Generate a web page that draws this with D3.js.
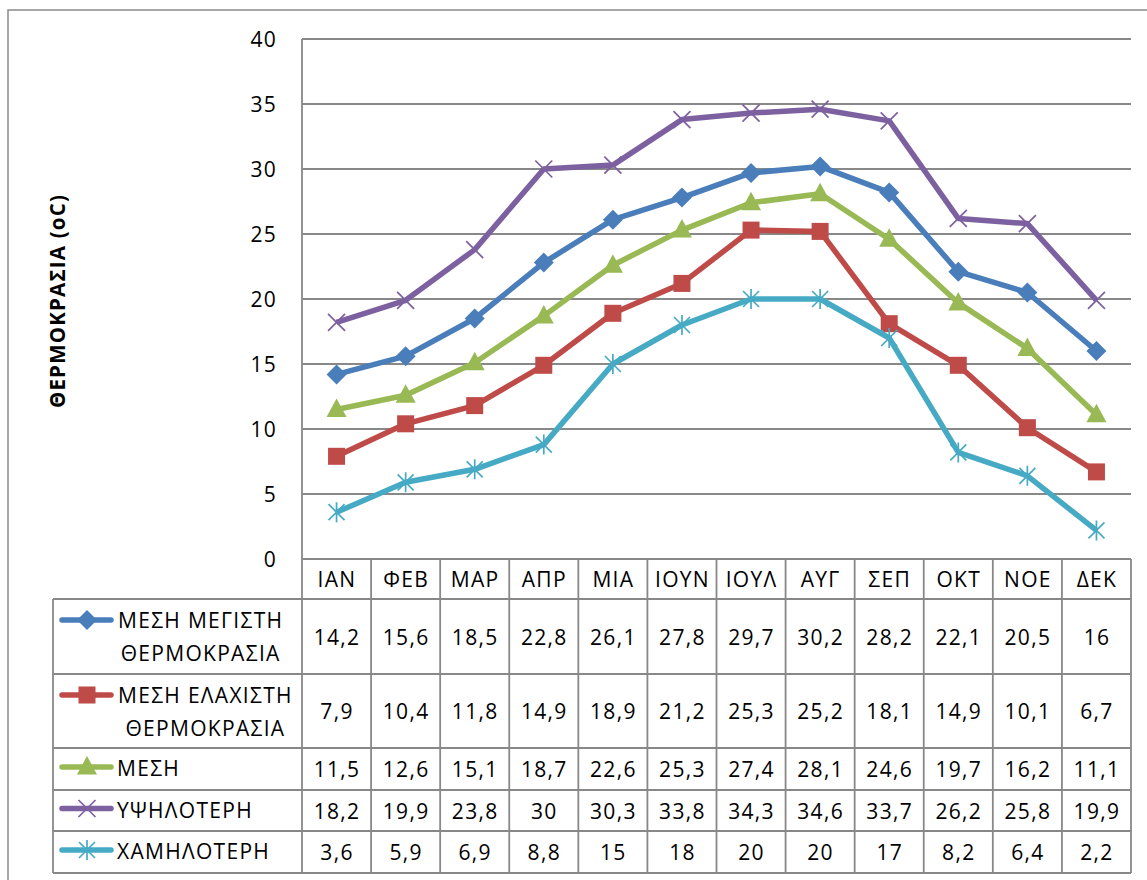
<!DOCTYPE html>
<html><head><meta charset="utf-8">
<script src="https://cdn.jsdelivr.net/npm/d3@7"></script>
<style>body{margin:0;background:#fff}svg{display:block}</style>
</head><body>
<svg id="c" width="1147" height="880"></svg>
<script>
const months = ["ΙΑΝ","ΦΕΒ","ΜΑΡ","ΑΠΡ","ΜΙΑ","ΙΟΥΝ","ΙΟΥΛ","ΑΥΓ","ΣΕΠ","ΟΚΤ","ΝΟΕ","ΔΕΚ"];
const meanMax = [14.2,15.6,18.5,22.8,26.1,27.8,29.7,30.2,28.2,22.1,20.5,16];
const meanMin = [7.9,10.4,11.8,14.9,18.9,21.2,25.3,25.2,18.1,14.9,10.1,6.7];
const mean = [11.5,12.6,15.1,18.7,22.6,25.3,27.4,28.1,24.6,19.7,16.2,11.1];
const highest = [18.2,19.9,23.8,30,30.3,33.8,34.3,34.6,33.7,26.2,25.8,19.9];
const lowest = [3.6,5.9,6.9,8.8,15,18,20,20,17,8.2,6.4,2.2];
const seriesNames = [["ΜΕΣΗ ΜΕΓΙΣΤΗ","ΘΕΡΜΟΚΡΑΣΙΑ"],["ΜΕΣΗ ΕΛΑΧΙΣΤΗ","ΘΕΡΜΟΚΡΑΣΙΑ"],["ΜΕΣΗ"],["ΥΨΗΛΟΤΕΡΗ"],["ΧΑΜΗΛΟΤΕΡΗ"]];
const yTicks = [0,5,10,15,20,25,30,35,40];
const yTitle = "ΘΕΡΜΟΚΡΑΣΙΑ (oC)";

const series = [
  {name:seriesNames[0], values:meanMax, color:"#4A7EBB", marker:"diamond"},
  {name:seriesNames[1], values:meanMin, color:"#BE4B48", marker:"square"},
  {name:seriesNames[2], values:mean, color:"#98B954", marker:"triangle"},
  {name:seriesNames[3], values:highest, color:"#7D60A0", marker:"x"},
  {name:seriesNames[4], values:lowest, color:"#46AAC5", marker:"star"}
];

const svg = d3.select("#c");
const FONT = "'Open Sans','Noto Sans',sans-serif";
const plotL = 302, plotR = 1131, plotT = 39, plotB = 559;
const grid = "#888";
const FS = 21, LS = "1.3px";

svg.append("rect").attr("x",8).attr("y",10).attr("width",1160).attr("height",900)
  .attr("fill","none").attr("stroke","#8a8a8a").attr("stroke-width",1.5);

const x = d3.scaleBand().domain(months).range([plotL, plotR]);
const y = d3.scaleLinear().domain([0,40]).range([plotB, plotT]);
const cx = m => x(m) + x.bandwidth()/2;

svg.append("g").selectAll("line").data(yTicks).join("line")
  .attr("x1",plotL).attr("x2",plotR).attr("y1",d=>y(d)).attr("y2",d=>y(d))
  .attr("stroke",grid).attr("stroke-width",1.8);
svg.append("line").attr("x1",plotL).attr("x2",plotL).attr("y1",plotT).attr("y2",plotB)
  .attr("stroke",grid).attr("stroke-width",1.8);

const yAxis = d3.axisLeft(y).tickValues(yTicks).tickSize(0).tickPadding(25);
const ya = svg.append("g").attr("transform",`translate(${plotL},0)`).call(yAxis);
ya.select(".domain").remove();
ya.selectAll("text").attr("font-family",FONT).attr("font-size",FS).attr("letter-spacing","1.3px").attr("fill","#000").attr("dy","0.35em");

svg.append("text").attr("transform",`translate(65,${(plotT+plotB)/2+2}) rotate(-90)`)
  .attr("text-anchor","middle").attr("font-family",FONT).attr("font-size",20.5).attr("font-weight","bold")
  .attr("letter-spacing","1.2px").text(yTitle);

function drawMarker(g, type, color, s) {
  if (type==="diamond") {
    g.append("path").attr("d",`M0,${-s}L${s},0L0,${s}L${-s},0Z`).attr("fill",color);
  } else if (type==="square") {
    const h=s*0.85;
    g.append("rect").attr("x",-h).attr("y",-h).attr("width",2*h).attr("height",2*h).attr("fill",color);
  } else if (type==="triangle") {
    g.append("path").attr("d",`M0,${-s*1.1}L${s},${s*0.75}L${-s},${s*0.75}Z`).attr("fill",color);
  } else if (type==="x") {
    const h=s*0.85;
    g.append("path").attr("d",`M${-h},${-h}L${h},${h}M${-h},${h}L${h},${-h}`).attr("stroke",color).attr("stroke-width",1.7);
  } else if (type==="star") {
    const h=s*0.8;
    g.append("path").attr("d",`M${-h},${-h}L${h},${h}M${-h},${h}L${h},${-h}M0,${-s}L0,${s}`).attr("stroke",color).attr("stroke-width",1.7);
  }
}

const line = d3.line().x((d,i)=>cx(months[i])).y(d=>y(d));
const lg = svg.append("g");
series.forEach(s=>{
  lg.append("path").datum(s.values).attr("d",line).attr("fill","none")
    .attr("stroke",s.color).attr("stroke-width",5.5).attr("stroke-linejoin","round");
  s.values.forEach((v,i)=>{
    drawMarker(lg.append("g").attr("transform",`translate(${cx(months[i])},${y(v)})`), s.marker, s.color, 10);
  });
});

// data table
const rowB = [599, 674, 748, 790, 831, 873];
const tabL = 53;
const tg = svg.append("g");
const colEdges = months.map(m=>x(m)).concat([plotR]);
const gl = (x1,y1,x2,y2)=>tg.append("line").attr("x1",x1).attr("y1",y1).attr("x2",x2).attr("y2",y2).attr("stroke",grid).attr("stroke-width",1.8);
colEdges.forEach(d=>gl(d,plotB,d,rowB[5]));
gl(tabL,rowB[0],plotR,rowB[0]);
gl(tabL,rowB[0],tabL,rowB[5]);
rowB.slice(1).forEach(yy=>gl(tabL,yy,plotR,yy));

const txt = (xx,yy,t,anchor)=>tg.append("text").attr("x",xx).attr("y",yy).attr("text-anchor",anchor||"middle")
  .attr("font-family",FONT).attr("font-size",FS).attr("letter-spacing",LS).text(t);

months.forEach(m=>txt(cx(m)+0.5, 587, m));

series.forEach((s,si)=>{
  const top=rowB[si], bot=rowB[si+1], cyy=(top+bot)/2;
  s.values.forEach((v,i)=> txt(cx(months[i])+0.5, cyy+8, String(v).replace(".",",")));
  const two = s.name.length>1;
  const ky = two ? top+21 : cyy-2;
  tg.append("line").attr("x1",62).attr("x2",111).attr("y1",ky).attr("y2",ky)
    .attr("stroke",s.color).attr("stroke-width",5.5).attr("stroke-linecap","round");
  drawMarker(tg.append("g").attr("transform",`translate(87,${ky})`), s.marker, s.color, 10);
  if (two) {
    const t1 = txt(118, top+29, s.name[0], "start");
    const bb = t1.node().getBBox();
    txt(bb.x + bb.width/2, top+62, s.name[1]);
  } else {
    txt(117, cyy+7, s.name[0], "start");
  }
});
</script>
</body></html>
